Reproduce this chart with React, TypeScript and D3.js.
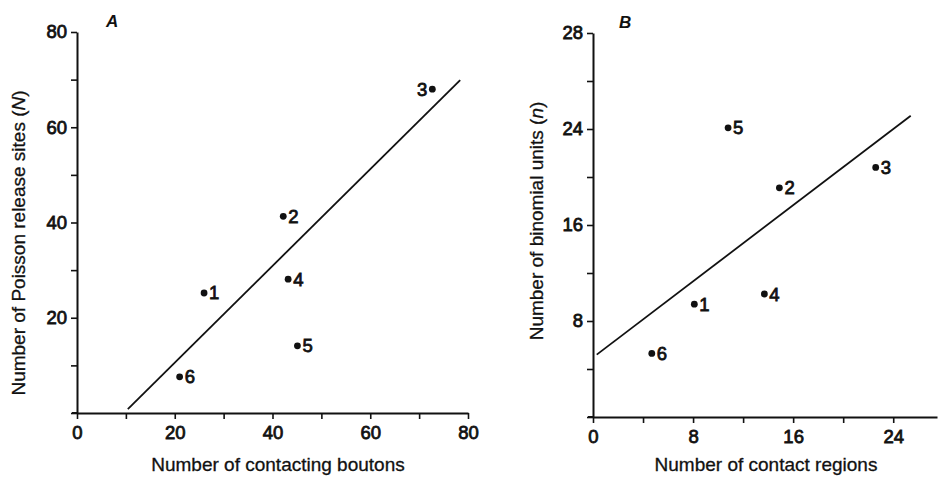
import React, { useEffect, useRef } from "react";
import * as d3 from "d3";

// Panel A data
const idsA = ["1", "2", "3", "4", "5", "6"];
const boutonsA = [26, 42.2, 72.7, 43.2, 45.1, 21];
const releaseSitesA = [25.2, 41.3, 68, 28.1, 14.1, 7.6];
const labelSideA = ["right", "right", "left", "right", "right", "right"];
const fitLineXA = [10.4, 78.4];
const fitLineYA = [0.8, 69.9];
const xTicksA = [0, 10, 20, 30, 40, 50, 60, 70, 80];
const xTickLabelsA = ["0", "", "20", "", "40", "", "60", "", "80"];
const yTicksA = [0, 10, 20, 30, 40, 50, 60, 70, 80];
const yTickLabelsA = ["", "", "20", "", "40", "", "60", "", "80"];

// Panel B data
const idsB = ["1", "2", "3", "4", "5", "6"];
const contactRegionsB = [8.1, 14.9, 22.6, 13.7, 10.8, 4.7];
const binomialUnitsB = [9.4, 19.1, 20.8, 10.25, 24.1, 5.3];
const labelSideB = ["right", "right", "right", "right", "right", "right"];
const fitLineXB = [0.3, 25.4];
const fitLineYB = [5.2, 25.1];
const xTicksB = [0, 4, 8, 12, 16, 20, 24];
const xTickLabelsB = ["0", "", "8", "", "16", "", "24"];
const yTicksB = [0, 4, 8, 12, 16, 20, 24, 28, 32];
const yTickLabelsB = ["", "", "8", "", "16", "", "24", "", "28"];

const FONT = "'Liberation Sans', Arial, Helvetica, sans-serif";

function drawPanel(
  g: d3.Selection<SVGGElement, unknown, null, undefined>,
  cfg: {
    xDomain: [number, number];
    xRange: [number, number];
    yDomain: [number, number];
    yRange: [number, number];
    xTicks: number[];
    xTickLabels: string[];
    yTicks: number[];
    yTickLabels: string[];
    xs: number[];
    ys: number[];
    ids: string[];
    sides: string[];
    lineX: number[];
    lineY: number[];
    xLabel: string;
    xLabelPos: [number, number];
    yLabel: string;
    yLabelPos: [number, number];
    panel: string;
    panelPos: [number, number];
    yLabelItalic: string;
  }
) {
  const x = d3.scaleLinear().domain(cfg.xDomain).range(cfg.xRange);
  const y = d3.scaleLinear().domain(cfg.yDomain).range(cfg.yRange);

  const xAxis = d3
    .axisBottom(x)
    .tickValues(cfg.xTicks)
    .tickSizeInner(6)
    .tickSizeOuter(0)
    .tickPadding(7)
    .tickFormat((d, i) => cfg.xTickLabels[i]);
  const yAxis = d3
    .axisLeft(y)
    .tickValues(cfg.yTicks)
    .tickSizeInner(6)
    .tickSizeOuter(0)
    .tickPadding(4)
    .tickFormat((d, i) => cfg.yTickLabels[i]);

  const gx = g
    .append("g")
    .attr("transform", `translate(0,${cfg.yRange[0]})`)
    .call(xAxis as any);
  const gy = g
    .append("g")
    .attr("transform", `translate(${cfg.xRange[0]},0)`)
    .call(yAxis as any);

  [gx, gy].forEach((a) => {
    a.select(".domain").attr("stroke", "#111").attr("stroke-width", 2);
    a.selectAll(".tick line").attr("stroke", "#111").attr("stroke-width", 1.6);
    a.selectAll(".tick text")
      .attr("fill", "#111")
      .attr("stroke", "#111")
      .attr("stroke-width", 0.8)
      .style("font-family", FONT)
      .style("font-size", "18.5px");
  });
  // extend x axis a bit to the left of the y axis
  g.append("line")
    .attr("x1", cfg.xRange[0] - 5)
    .attr("x2", cfg.xRange[0])
    .attr("y1", cfg.yRange[0])
    .attr("y2", cfg.yRange[0])
    .attr("stroke", "#111")
    .attr("stroke-width", 2);

  // fit line
  const line = d3
    .line<number>()
    .x((d, i) => x(cfg.lineX[i]))
    .y((d, i) => y(cfg.lineY[i]));
  g.append("path")
    .datum(cfg.lineX)
    .attr("d", line as any)
    .attr("fill", "none")
    .attr("stroke", "#111")
    .attr("stroke-width", 1.8);

  // points
  const pts = cfg.xs.map((v, i) => ({ x: v, y: cfg.ys[i], id: cfg.ids[i], side: cfg.sides[i] }));
  g.selectAll("circle.pt")
    .data(pts)
    .enter()
    .append("circle")
    .attr("class", "pt")
    .attr("cx", (d) => x(d.x))
    .attr("cy", (d) => y(d.y))
    .attr("r", 3.4)
    .attr("fill", "#111");
  g.selectAll("text.pl")
    .data(pts)
    .enter()
    .append("text")
    .attr("class", "pl")
    .attr("x", (d) => x(d.x) + (d.side === "left" ? -5 : 5))
    .attr("y", (d) => y(d.y) + 6.5)
    .attr("text-anchor", (d) => (d.side === "left" ? "end" : "start"))
    .attr("fill", "#111")
    .attr("stroke", "#111")
    .attr("stroke-width", 0.8)
    .style("font-family", FONT)
    .style("font-size", "18.5px")
    .text((d) => d.id);

  // axis labels
  g.append("text")
    .attr("x", cfg.xLabelPos[0])
    .attr("y", cfg.xLabelPos[1])
    .attr("text-anchor", "middle")
    .attr("fill", "#111")
    .attr("stroke", "#111")
    .attr("stroke-width", 0.3)
    .style("font-family", FONT)
    .style("font-size", "19px")
    .text(cfg.xLabel);

  const yl = g
    .append("text")
    .attr("transform", `translate(${cfg.yLabelPos[0]},${cfg.yLabelPos[1]}) rotate(-90)`)
    .attr("text-anchor", "middle")
    .attr("fill", "#111")
    .attr("stroke", "#111")
    .attr("stroke-width", 0.3)
    .style("font-family", FONT)
    .style("font-size", "19px");
  yl.append("tspan").text(cfg.yLabel + " (");
  yl.append("tspan").style("font-style", "italic").text(cfg.yLabelItalic);
  yl.append("tspan").text(")");

  g.append("text")
    .attr("x", cfg.panelPos[0])
    .attr("y", cfg.panelPos[1])
    .attr("fill", "#111")
    .style("font-family", FONT)
    .style("font-size", "17px")
    .style("font-weight", "bold")
    .style("font-style", "italic")
    .text(cfg.panel);
}

export default function App() {
  const ref = useRef<SVGSVGElement>(null);
  useEffect(() => {
    const svg = d3.select(ref.current);
    svg.selectAll("*").remove();
    const root = svg.append("g");

    drawPanel(root.append("g"), {
      xDomain: [0, 80],
      xRange: [77, 468],
      yDomain: [0, 80],
      yRange: [413, 32],
      xTicks: xTicksA,
      xTickLabels: xTickLabelsA,
      yTicks: yTicksA,
      yTickLabels: yTickLabelsA,
      xs: boutonsA,
      ys: releaseSitesA,
      ids: idsA,
      sides: labelSideA,
      lineX: fitLineXA,
      lineY: fitLineYA,
      xLabel: "Number of contacting boutons",
      xLabelPos: [278, 471],
      yLabel: "Number of Poisson release sites",
      yLabelItalic: "N",
      yLabelPos: [25, 243],
      panel: "A",
      panelPos: [106, 27],
    });

    drawPanel(root.append("g"), {
      xDomain: [0, 27.5],
      xRange: [593, 937],
      yDomain: [0, 32],
      yRange: [417, 33],
      xTicks: xTicksB,
      xTickLabels: xTickLabelsB,
      yTicks: yTicksB,
      yTickLabels: yTickLabelsB,
      xs: contactRegionsB,
      ys: binomialUnitsB,
      ids: idsB,
      sides: labelSideB,
      lineX: fitLineXB,
      lineY: fitLineYB,
      xLabel: "Number of contact regions",
      xLabelPos: [766, 471],
      yLabel: "Number of binomial units",
      yLabelItalic: "n",
      yLabelPos: [543, 221],
      panel: "B",
      panelPos: [619, 28],
    });
  }, []);
  return (
    <svg
      ref={ref}
      width={938}
      height={477}
      style={{ position: "absolute", left: 0, top: 0, background: "#fff" }}
    />
  );
}
